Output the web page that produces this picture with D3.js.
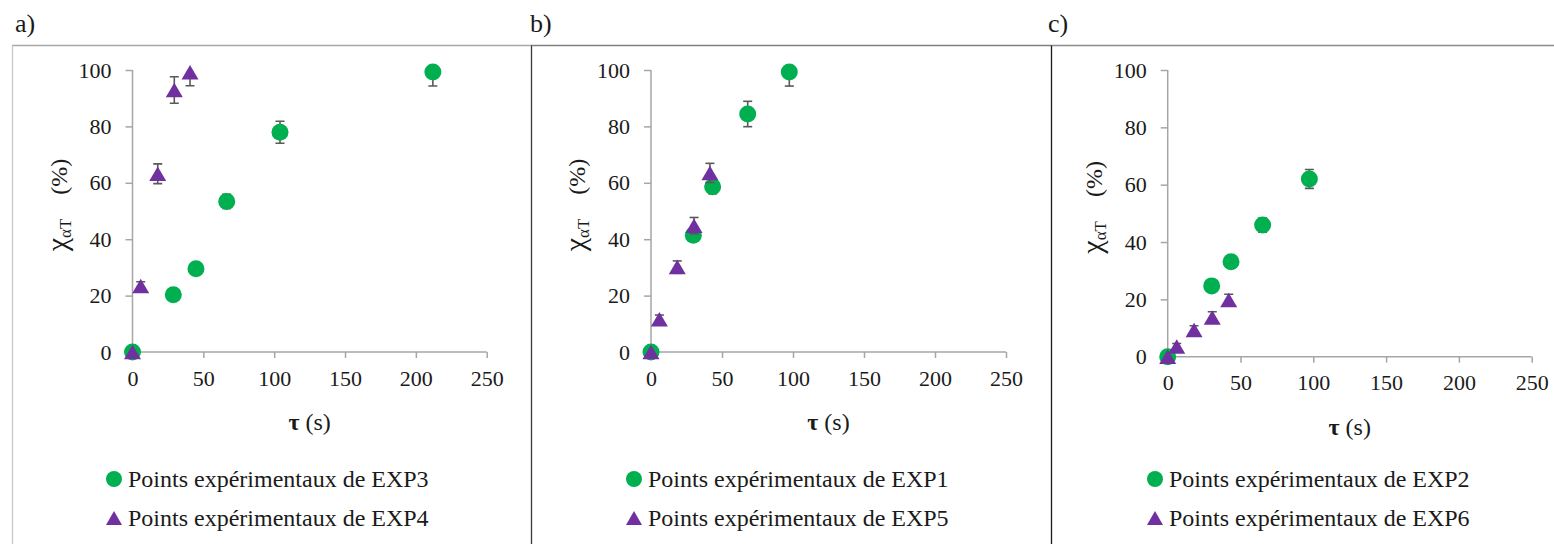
<!DOCTYPE html>
<html>
<head>
<meta charset="utf-8">
<script src="https://cdn.jsdelivr.net/npm/d3@7"></script>
<style>
  html, body { margin: 0; padding: 0; background: #fff; }
  svg { display: block; }
  text { font-family: "Liberation Serif", "Times New Roman", Tinos, "DejaVu Serif", "Noto Serif", FreeSerif, serif; fill: #1a1a1a; }
</style>
</head>
<body>
<svg id="chart" width="1554" height="544"></svg>
<script>
// ---- data (τ in s, χαT in %, error = ± half-width) ----
const xTicks = [0, 50, 100, 150, 200, 250];
const yTicks = [0, 20, 40, 60, 80, 100];

const exp3Tau = [0, 28.8, 44.8, 66.5, 104.1, 212];
const exp3Chi = [0, 20.3, 29.5, 53.4, 77.9, 99.3];
const exp3Err = [0, 2, 2, 2.5, 3.9, 5];

const exp4Tau = [0, 5.8, 17.8, 29.5, 40.6];
const exp4Chi = [0, 23.4, 63.2, 92.9, 99.2];
const exp4Err = [0, 1.5, 3.5, 4.7, 4.8];

const exp1Tau = [0, 29.8, 43.4, 68.1, 97.4];
const exp1Chi = [0, 41.4, 58.6, 84.4, 99.3];
const exp1Err = [0, 2, 2.5, 4.5, 5];

const exp5Tau = [0, 5.9, 18.5, 30.3, 41.5];
const exp5Chi = [0, 11.6, 30.1, 44.8, 63.5];
const exp5Err = [0, 1.5, 2.2, 2.9, 3.4];

const exp2Tau = [0, 30.2, 43.5, 65.2, 97.3];
const exp2Chi = [0, 24.7, 33.1, 45.9, 62.0];
const exp2Err = [0, 2, 2, 2.5, 3.3];

const exp6Tau = [0, 6.2, 18.1, 30.6, 41.9];
const exp6Chi = [0, 3.6, 9.3, 13.7, 19.8];
const exp6Err = [0, 1, 1.5, 2, 2];

const panelTags = ["a)", "b)", "c)"];
const circleNames = ["Points expérimentaux de EXP3", "Points expérimentaux de EXP1", "Points expérimentaux de EXP2"];
const triangleNames = ["Points expérimentaux de EXP4", "Points expérimentaux de EXP5", "Points expérimentaux de EXP6"];

const GREEN = "#00b050";
const PURPLE = "#7030a0";
const ERR = "#595959";
const AXIS = "#a6a6a6";
const FONT = '"Liberation Serif", "Times New Roman", Tinos, "DejaVu Serif", "Noto Serif", FreeSerif, serif';

const zip = (t, c, e) => t.map((v, i) => ({ x: v, y: c[i], e: e[i] }));

// ---- panel frames ----
const panels = [
  { tag: panelTags[0], left: 12, right: 531, border: "#c8c8c8", top: "#a8a8a8",
    px: [132.5, 486.7], py: [352, 70], legendX: 114,
    circles: zip(exp3Tau, exp3Chi, exp3Err), triangles: zip(exp4Tau, exp4Chi, exp4Err),
    circleName: circleNames[0], triangleName: triangleNames[0], tagX: 15 },
  { tag: panelTags[1], left: 531, right: 1051, border: "#3a3a3a", top: "#7f7f7f",
    px: [651, 1006], py: [352, 70], legendX: 634,
    circles: zip(exp1Tau, exp1Chi, exp1Err), triangles: zip(exp5Tau, exp5Chi, exp5Err),
    circleName: circleNames[1], triangleName: triangleNames[1], tagX: 530 },
  { tag: panelTags[2], left: 1051, right: 1554, border: "#1a1a1a", top: "#8c8c8c",
    px: [1167.7, 1531.7], py: [356.7, 70], legendX: 1155,
    circles: zip(exp2Tau, exp2Chi, exp2Err), triangles: zip(exp6Tau, exp6Chi, exp6Err),
    circleName: circleNames[2], triangleName: triangleNames[2], tagX: 1048 }
];

const svg = d3.select("#chart").attr("font-family", FONT);
const defs = svg.append("defs");

// triangle marker centred on its bounding box
const triPath = (w, h) => `M0,${-h / 2}L${w / 2},${h / 2}L${-w / 2},${h / 2}Z`;

panels.forEach((p, idx) => {
  const g = svg.append("g");

  // frame lines
  g.append("line").attr("x1", p.left).attr("x2", p.right).attr("y1", 45.5).attr("y2", 45.5)
    .attr("stroke", p.top).attr("stroke-width", 1.5);
  g.append("line").attr("x1", p.left + 0.5).attr("x2", p.left + 0.5).attr("y1", 45.5).attr("y2", 544)
    .attr("stroke", p.border).attr("stroke-width", 1.3);

  // panel tag
  g.append("text").attr("x", p.tagX).attr("y", 32).attr("font-size", 26).text(p.tag);

  const x = d3.scaleLinear().domain([0, 250]).range(p.px);
  const y = d3.scaleLinear().domain([0, 100]).range(p.py);

  // axes
  const yAxis = d3.axisLeft(y).tickValues(yTicks).tickSize(7).tickPadding(14);
  const xAxis = d3.axisBottom(x).tickValues(xTicks).tickSize(6).tickPadding(12);

  const ya = g.append("g").attr("transform", `translate(${p.px[0]},0)`).call(yAxis);
  const xa = g.append("g").attr("transform", `translate(0,${p.py[0]})`).call(xAxis);
  [ya, xa].forEach(a => {
    a.attr("font-family", FONT);
    a.select(".domain").attr("stroke", AXIS).attr("stroke-width", 1.5);
    a.selectAll(".tick line").attr("stroke", AXIS).attr("stroke-width", 1.5);
    a.selectAll(".tick text").attr("font-size", 22).attr("fill", "#1a1a1a");
  });
  // straight axis lines without end caps
  ya.select(".domain").attr("d", `M0,${p.py[1]}V${p.py[0]}`);
  xa.select(".domain").attr("d", `M${p.px[0]},0H${p.px[1]}`);

  // axis titles
  const xMid = (p.px[0] + p.px[1]) / 2;
  const xt = g.append("text").attr("x", xMid).attr("y", p.py[0] + 78)
    .attr("text-anchor", "middle").attr("font-size", 24);
  xt.append("tspan").attr("font-weight", "bold").text("τ");
  xt.append("tspan").text(" (s)");

  const yMid = (p.py[0] + p.py[1]) / 2 - 6;
  const yt = g.append("text")
    .attr("transform", `translate(${p.px[0] - 66},${yMid}) rotate(-90)`)
    .attr("text-anchor", "middle").attr("font-size", 24);
  yt.append("tspan").attr("font-size", 30).text("χ");
  yt.append("tspan").attr("font-size", 17).attr("dy", 4).text("αT");
  yt.append("tspan").attr("dy", -4).text("\u2003(%)");

  // clip for error bars (plot area)
  const clipId = `clip${idx}`;
  defs.append("clipPath").attr("id", clipId).append("rect")
    .attr("x", p.px[0] - 20).attr("y", p.py[1])
    .attr("width", p.px[1] - p.px[0] + 40).attr("height", p.py[0] - p.py[1] + 20);

  const drawErr = (data) => {
    const eg = g.append("g").attr("clip-path", `url(#${clipId})`)
      .attr("stroke", ERR).attr("stroke-width", 1.6).attr("fill", "none");
    data.filter(d => d.e > 0).forEach(d => {
      const cx = x(d.x), y1 = y(d.y + d.e), y2 = y(d.y - d.e);
      eg.append("line").attr("x1", cx).attr("x2", cx).attr("y1", y1).attr("y2", y2);
      eg.append("line").attr("x1", cx - 4.5).attr("x2", cx + 4.5).attr("y1", y1).attr("y2", y1);
      eg.append("line").attr("x1", cx - 4.5).attr("x2", cx + 4.5).attr("y1", y2).attr("y2", y2);
    });
  };

  // circles series
  drawErr(p.circles);
  g.append("g").selectAll("circle").data(p.circles).join("circle")
    .attr("cx", d => x(d.x)).attr("cy", d => y(d.y)).attr("r", 8.5).attr("fill", GREEN);

  // triangles series
  drawErr(p.triangles);
  g.append("g").selectAll("path").data(p.triangles).join("path")
    .attr("transform", d => `translate(${x(d.x)},${y(d.y)})`)
    .attr("d", triPath(17, 14.5)).attr("fill", PURPLE);

  // legend
  g.append("circle").attr("cx", p.legendX).attr("cy", 479).attr("r", 8).attr("fill", GREEN);
  g.append("path").attr("transform", `translate(${p.legendX},518)`)
    .attr("d", triPath(16, 14)).attr("fill", PURPLE);
  g.append("text").attr("x", p.legendX + 14).attr("y", 479).attr("dy", "0.35em")
    .attr("font-size", 24).text(p.circleName);
  g.append("text").attr("x", p.legendX + 14).attr("y", 518).attr("dy", "0.35em")
    .attr("font-size", 24).text(p.triangleName);
});
</script>
</body>
</html>
